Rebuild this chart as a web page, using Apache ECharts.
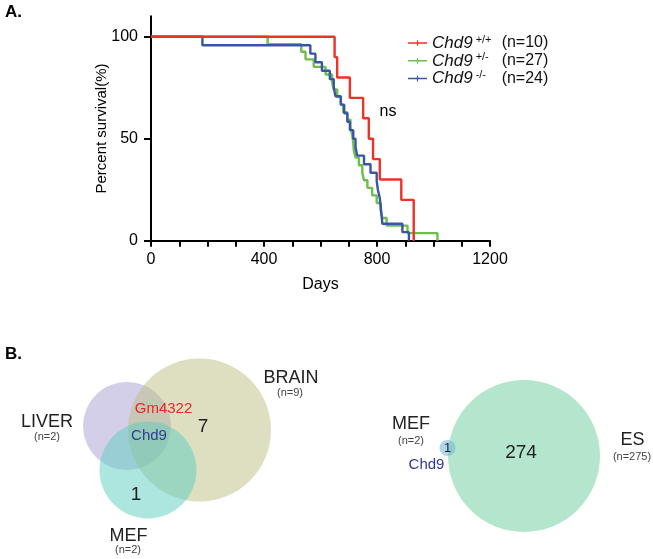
<!DOCTYPE html>
<html><head><meta charset="utf-8">
<script src="https://cdn.jsdelivr.net/npm/echarts@6/dist/echarts.min.js"></script>
<style>html,body{margin:0;padding:0;background:#fff}#c{width:653px;height:559px}</style>
</head><body><div id="c"></div>
<script>
// ---------- Panel A: Kaplan-Meier survival (days, percent survival) ----------
const genotypes = ['+/+', '+/-', '-/-'];
const groupN = [10, 27, 24];
const wtDays  = [0, 650, 659, 704, 751, 771, 786, 810, 886, 930];
const wtSurv  = [100, 90, 80, 70, 60, 50, 40, 30, 20, 0];
const hetDays = [0, 413, 532, 547, 576, 618, 641, 647, 659, 672, 680, 695, 706, 712, 716, 718, 724, 736, 748, 754, 766, 783, 799, 813, 819, 834, 908, 1014];
const hetSurv = [100, 96.3, 92.6, 88.9, 85.2, 81.5, 77.8, 74.1, 70.4, 66.7, 63.0, 59.3, 55.6, 51.9, 48.1, 44.4, 40.7, 37.0, 33.3, 29.6, 25.9, 22.2, 18.5, 14.8, 11.1, 7.4, 3.7, 0];
const koDays  = [0, 182, 564, 582, 605, 633, 647, 653, 672, 684, 695, 704, 716, 724, 730, 754, 777, 799, 803, 810, 813, 816, 819, 890, 913];
const koSurv  = [100, 95.8, 91.7, 87.5, 83.3, 79.2, 75, 70.8, 66.7, 62.5, 58.3, 54.2, 50, 45.8, 41.7, 37.5, 33.3, 29.2, 25, 20.8, 16.7, 12.5, 8.3, 4.2, 0];
const xTickLabels = [0, 400, 800, 1200];
const yTickLabels = [0, 50, 100];
const statText = 'ns';

// ---------- Panel B: Venn diagrams ----------
const venn1Sets = ['LIVER', 'BRAIN', 'MEF'];
const venn1N = [2, 9, 2];
const venn1Regions = ['Gm4322', 'Chd9', '7', '1'];
const venn2Sets = ['MEF', 'ES'];
const venn2N = [2, 275];
const venn2Regions = ['1', '274', 'Chd9'];

// layout (kept apart from the data)
const FONT = '"Liberation Sans", Arial, Helvetica, sans-serif';
const lineColors = ['#ec3326', '#6cbf4c', '#3b55a6'];
const vennCircles = [ // [cx, cy, r] in panel-B units
  [127, 426, 44], [199.5, 430, 71.5], [148, 470, 48.5],
  [524, 456, 76], [447.5, 448, 8]
];
const vennFills = ['rgba(170,160,212,0.5)', 'rgba(187,192,129,0.5)', 'rgba(92,206,191,0.5)',
                   'rgba(103,205,153,0.5)', 'rgba(110,180,220,0.55)'];

const names = genotypes.map(g => 'Chd9 ' + g);
const toPairs = (d, s) => d.map((v, i) => [v, s[i]]);
const survData = [toPairs(wtDays, wtSurv), toPairs(hetDays, hetSurv), toPairs(koDays, koSurv)];

function txt(text, x, y, size, color, extra) {
  return Object.assign({ type: 'text', x, y, z: 100, style: { text, font: size + 'px ' + FONT, fill: color || '#222',
    textAlign: 'center', textVerticalAlign: 'middle' } }, extra || {});
}
const graphics = [
  { type: 'text', x: 5, y: 12.5, z: 100, style: { text: 'A.', font: 'bold 17px ' + FONT, fill: '#000', textVerticalAlign: 'middle' } },
  { type: 'text', x: 5, y: 354, z: 100, style: { text: 'B.', font: 'bold 17px ' + FONT, fill: '#000', textVerticalAlign: 'middle' } },
  txt(statText, 388, 112, 16, '#000'),
  // venn 1
  txt(venn1Sets[0], 47, 422, 18), txt('(n=' + venn1N[0] + ')', 47, 437, 11, '#444'),
  txt(venn1Sets[1], 291, 378, 18), txt('(n=' + venn1N[1] + ')', 290, 393, 11, '#444'),
  txt(venn1Sets[2], 128.5, 536, 18), txt('(n=' + venn1N[2] + ')', 128, 550, 11, '#444'),
  txt(venn1Regions[0], 163.5, 409, 15, '#e8262a'),
  txt(venn1Regions[1], 149, 436, 15, '#343a98'),
  txt(venn1Regions[2], 203, 427, 19),
  txt(venn1Regions[3], 136, 495, 19),
  // venn 2
  txt(venn2Sets[0], 411, 424, 18), txt('(n=' + venn2N[0] + ')', 411, 441, 11, '#444'),
  txt(venn2Sets[1], 632.5, 440, 18), txt('(n=' + venn2N[1] + ')', 632, 457, 11, '#444'),
  txt(venn2Regions[0], 447.5, 448, 13),
  txt(venn2Regions[1], 521, 453, 19),
  txt(venn2Regions[2], 426.5, 465, 15, '#343a98')
];

const chart = echarts.init(document.getElementById('c'), null, { renderer: 'canvas' });
chart.setOption({
  backgroundColor: '#fff',
  animation: false,
  textStyle: { fontFamily: FONT },
  grid: [
    { left: 151, top: 16.3, width: 339, height: 224.4 },
    { left: 0, top: 0, width: 653, height: 559 }
  ],
  xAxis: [
    { gridIndex: 0, type: 'value', min: 0, max: 1200, interval: 100,
      axisLine: { lineStyle: { color: '#000', width: 2 } },
      axisTick: { length: 6, lineStyle: { color: '#000', width: 2 } },
      axisLabel: { fontSize: 16, color: '#000', margin: 11, fontFamily: FONT,
        formatter: v => xTickLabels.indexOf(v) >= 0 ? String(v) : '' },
      splitLine: { show: false },
      name: 'Days', nameLocation: 'middle', nameGap: 36, nameMoveOverlap: false,
      nameTextStyle: { fontSize: 16, color: '#000', fontFamily: FONT } },
    { gridIndex: 1, type: 'value', min: 0, max: 653, show: false }
  ],
  yAxis: [
    { gridIndex: 0, type: 'value', min: 0, max: 110, interval: 50,
      axisLine: { show: true, lineStyle: { color: '#000', width: 2 } },
      axisTick: { show: true, length: 7, customValues: yTickLabels, lineStyle: { color: '#000', width: 2 } },
      axisLabel: { fontSize: 16, color: '#000', margin: 13, fontFamily: FONT, customValues: yTickLabels },
      splitLine: { show: false },
      name: 'Percent survival(%)', nameLocation: 'middle', nameGap: 42, nameRotate: 90, nameMoveOverlap: false,
      nameTextStyle: { fontSize: 15, color: '#000', fontFamily: FONT } },
    { gridIndex: 1, type: 'value', min: 0, max: 559, inverse: true, show: false }
  ],
  legend: {
    data: names, orient: 'vertical', left: 403, top: 29, itemWidth: 19, itemHeight: 6, itemGap: 0.3,
    icon: 'path://M0,2.2H20V3.8H0Z M9.4,0H10.6V6H9.4Z',
    formatter: name => {
      const i = names.indexOf(name);
      return '{it|Chd9}{sup|' + genotypes[i] + '}{n|(n=' + groupN[i] + ')}';
    },
    textStyle: {
      color: '#111', fontFamily: FONT,
      rich: {
        it: { fontStyle: 'italic', fontSize: 17, lineHeight: 18, fontFamily: FONT, color: '#111' },
        sup: { fontSize: 11, lineHeight: 11, verticalAlign: 'top', width: 26, padding: [0, 0, 0, 3], fontFamily: FONT, color: '#111' },
        n: { fontSize: 16, lineHeight: 18, fontFamily: FONT, color: '#111' }
      }
    }
  },
  graphic: graphics,
  series: [
    { name: names[1], type: 'line', step: 'end', showSymbol: false, data: survData[1], xAxisIndex: 0, yAxisIndex: 0,
      lineStyle: { color: lineColors[1], width: 2.4 }, itemStyle: { color: lineColors[1] }, z: 2 },
    { name: names[2], type: 'line', step: 'end', showSymbol: false, data: survData[2], xAxisIndex: 0, yAxisIndex: 0,
      lineStyle: { color: lineColors[2], width: 2.4 }, itemStyle: { color: lineColors[2] }, z: 3 },
    { name: names[0], type: 'line', step: 'end', showSymbol: false, data: survData[0], xAxisIndex: 0, yAxisIndex: 0,
      lineStyle: { color: lineColors[0], width: 2.4 }, itemStyle: { color: lineColors[0] }, z: 4 },
    { type: 'custom', xAxisIndex: 1, yAxisIndex: 1, silent: true, z: 1,
      data: vennCircles,
      renderItem: (params, api) => {
        const c = api.coord([api.value(0), api.value(1)]);
        const r = api.size([api.value(2), 0])[0];
        return { type: 'circle', shape: { cx: c[0], cy: c[1], r }, style: { fill: vennFills[params.dataIndex] } };
      } }
  ]
});
</script></body></html>
